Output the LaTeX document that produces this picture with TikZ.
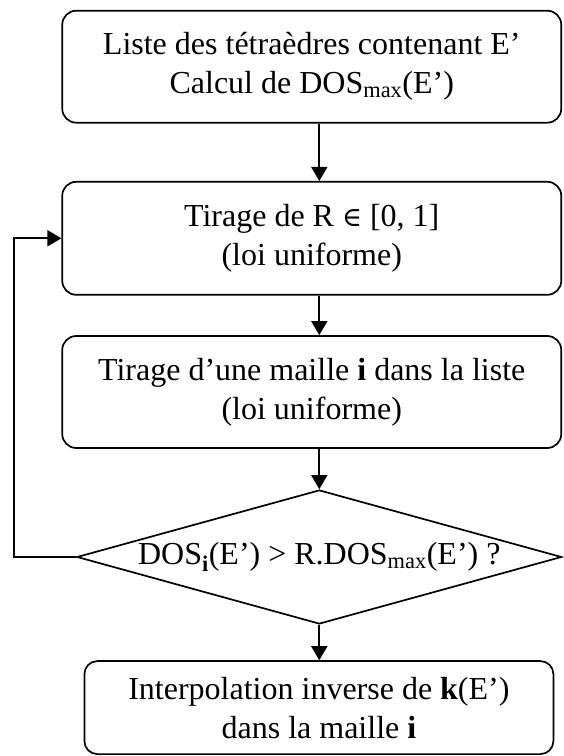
\documentclass[tikz,border=0pt]{standalone}
\usepackage{fontspec}
\setmainfont{Liberation Serif}
\newfontfamily\symbfont{DejaVu Serif}
\usetikzlibrary{arrows.meta,shapes.geometric}
\begin{document}
\begin{tikzpicture}[x=1pt, y=1pt,
    every node/.style={font=\fontsize{32}{39}\selectfont, align=center, inner sep=0pt},
    boite/.style={draw, line width=1.7pt, rounded corners=14pt},
    losange/.style={draw, line width=1.7pt, diamond, aspect=3.6},
    fleche/.style={line width=1.7pt, -{Triangle[length=14pt,width=16pt]}}]
    \useasboundingbox (0,0) rectangle (563,756);
    % Boites
    \node[boite, minimum width=499pt, minimum height=112pt] (liste) at (311.75,689.3)
        {Liste des tétraèdres contenant E’\\Calcul de DOS\textsubscript{max}(E’)};
    \node[boite, minimum width=499pt, minimum height=113pt] (tirageR) at (311.75,517.7)
        {Tirage de R {\symbfont\fontsize{27}{39}\selectfont ∈} [0, 1]\\(loi uniforme)};
    \node[boite, minimum width=499pt, minimum height=112pt] (tirageM) at (311.75,364)
        {Tirage d’une maille \textbf{i} dans la liste\\(loi uniforme)};
    % Test
    \node[losange, minimum width=484.8pt, minimum height=134pt] (test) at (319.3,199)
        {DOS\textsubscript{\textbf{i}}(E’) > R.DOS\textsubscript{max}(E’) ?};
    % Resultat
    \node[boite, rounded corners=13pt, minimum width=469pt, minimum height=93pt] (interp) at (318.9,48.4)
        {Interpolation inverse de \textbf{k}(E’)\\dans la maille \textbf{i}};
    \coordinate (retour) at (14,0);
    % Fleches
    \draw[fleche] (liste.south -| test.north) -- (tirageR.north -| test.north);
    \draw[fleche] (tirageR.south -| test.north) -- (tirageM.north -| test.north);
    \draw[fleche] (tirageM.south -| test.north) -- (test.north);
    \draw[fleche] (test.south) -- (interp.north -| test.south);
    \draw[fleche] (test.west) -- (test.west -| retour) |- (tirageR.west);
\end{tikzpicture}
\end{document}
